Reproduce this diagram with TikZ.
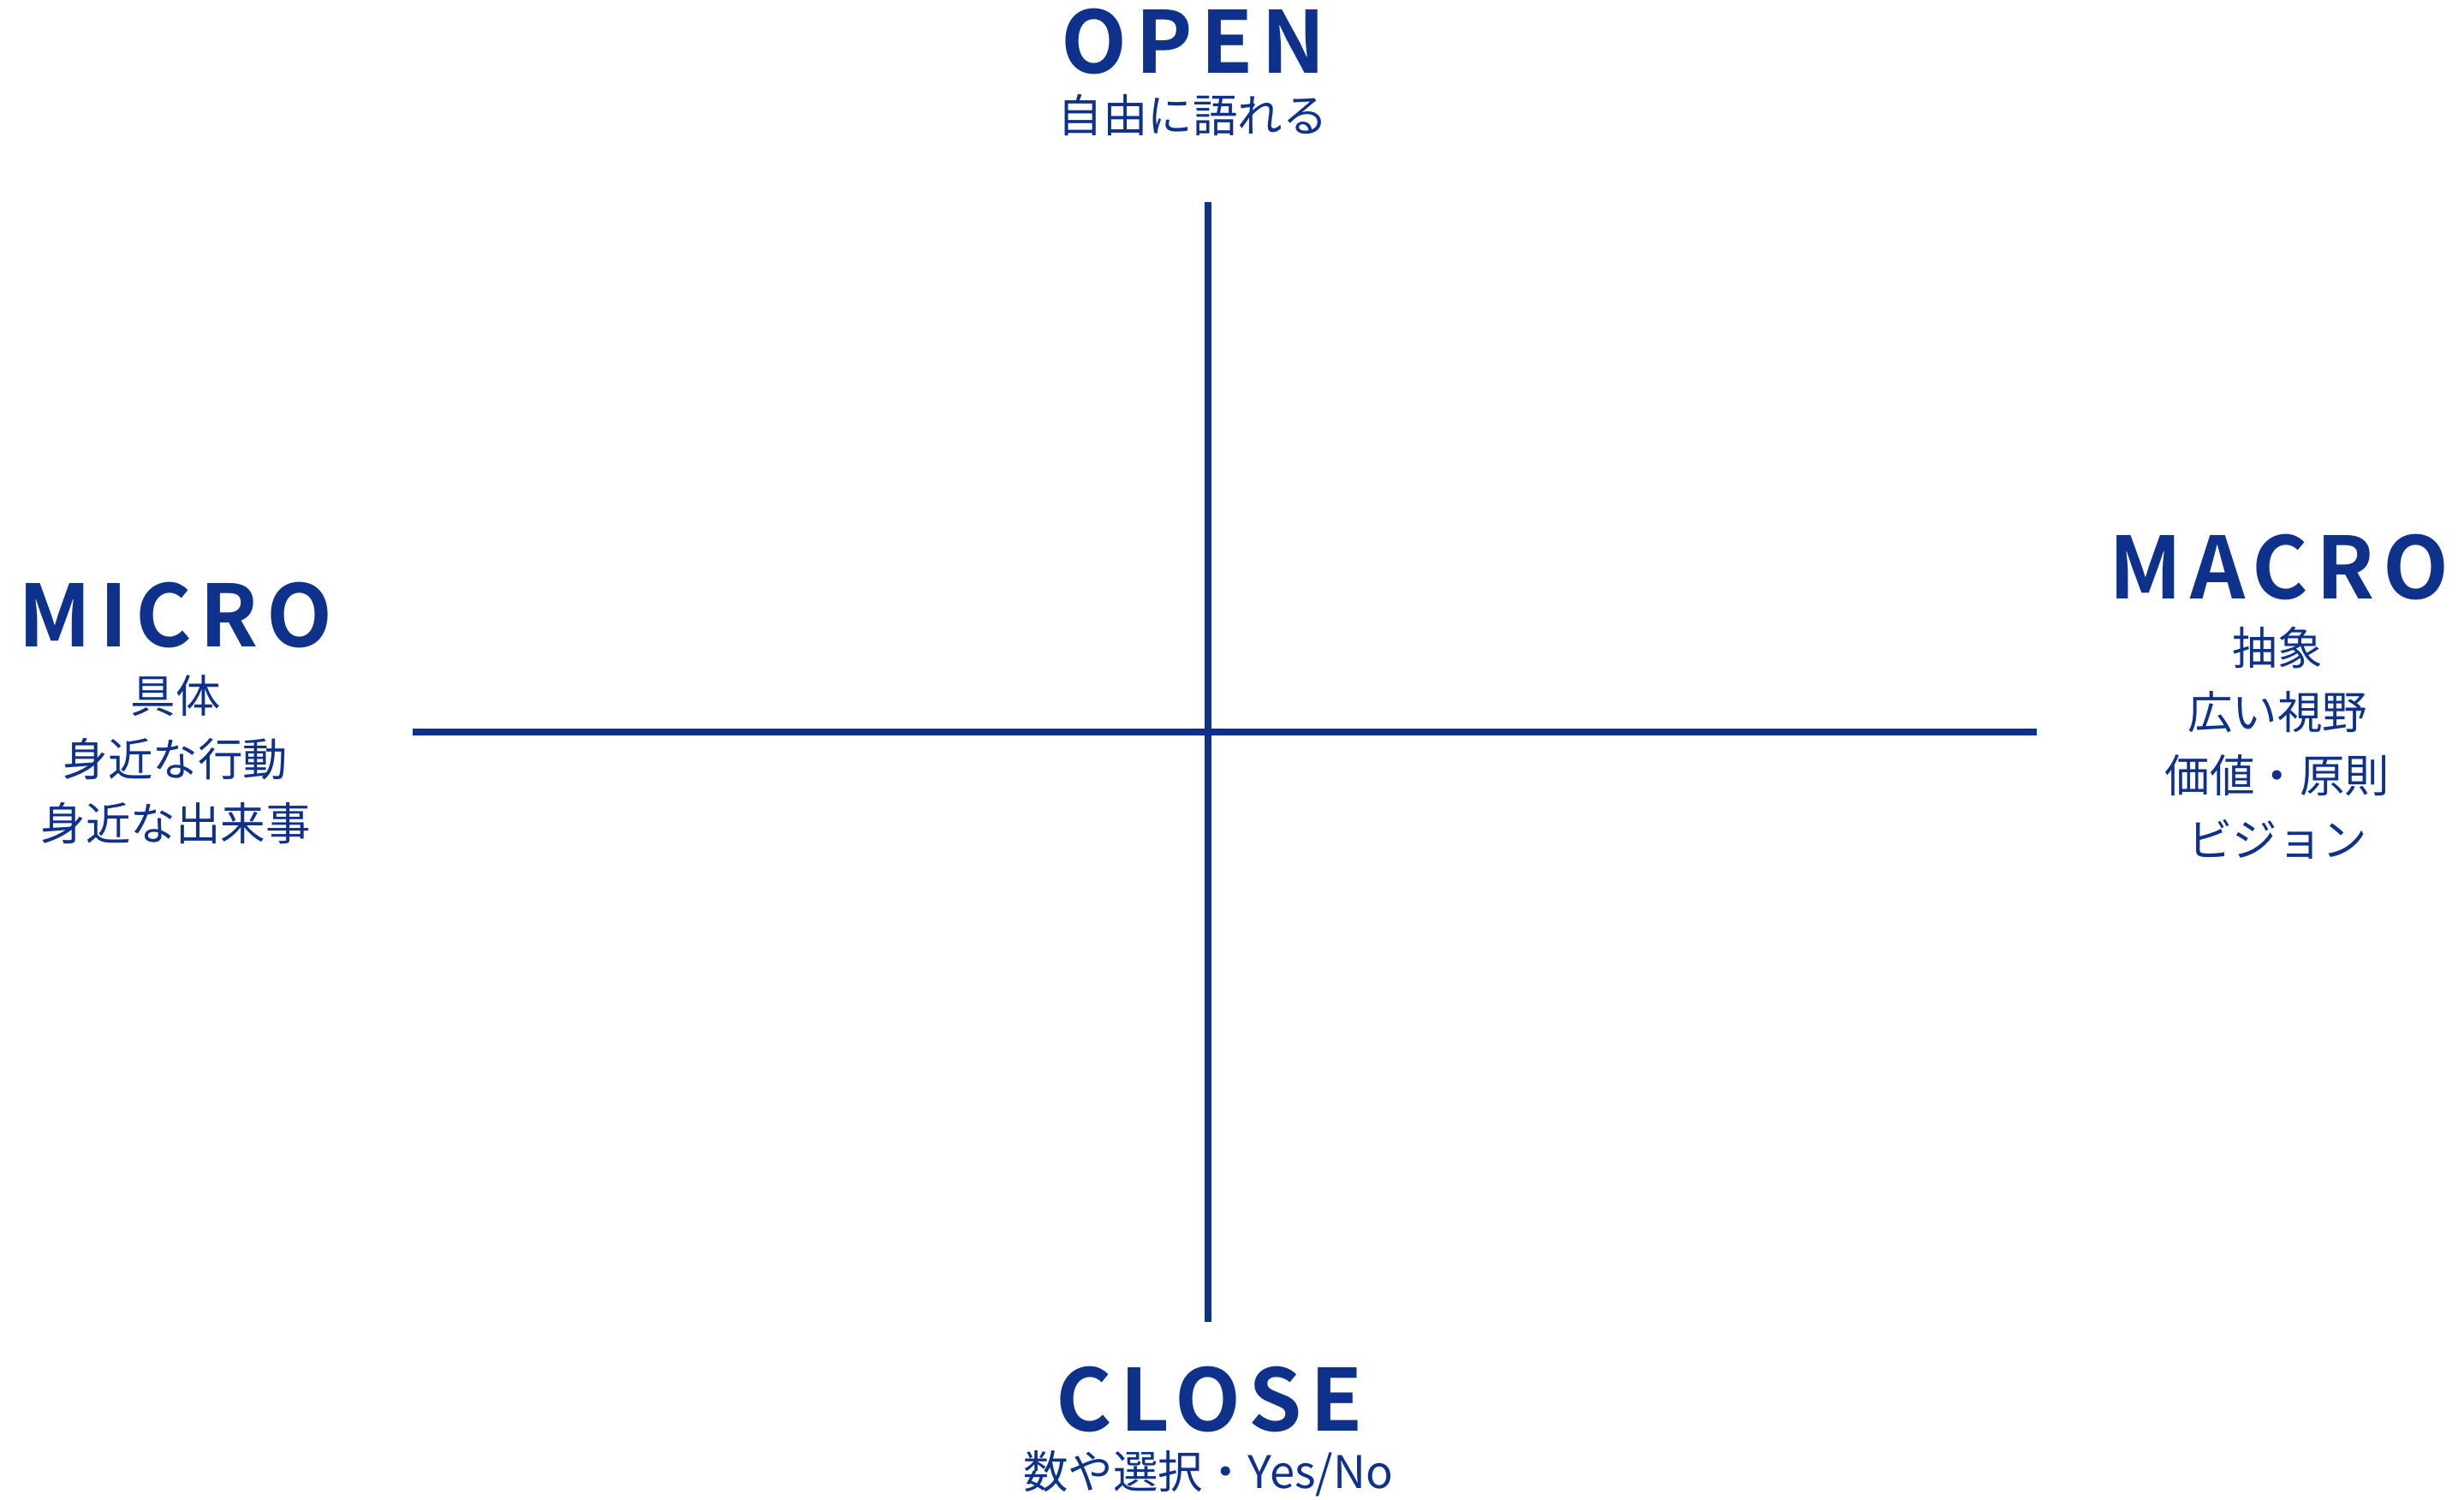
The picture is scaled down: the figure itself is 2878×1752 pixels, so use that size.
\documentclass[tikz,border=0pt]{standalone}
\usepackage{fontspec}
\setmainfont{Noto Sans CJK JP}
\newfontfamily\headfont[LetterSpace=9.5]{Noto Sans CJK JP Bold}
\definecolor{navy}{RGB}{14,50,140}
\tikzset{
  axis/.style={draw=navy, line width=8pt},
  headtxt/.style={text=navy, font=\headfont\fontsize{100}{100}\selectfont, inner sep=0pt, anchor=base},
  subtxt/.style={text=navy, font=\fontsize{52.5}{74.5}\selectfont, inner sep=0pt, align=center, anchor=north},
}
\begin{document}
\begin{tikzpicture}[x=1pt,y=-1pt]
\useasboundingbox (0,0) rectangle (2878,1752);
\coordinate (vt) at (1411.3,236);
\coordinate (vb) at (1411.3,1544);
\coordinate (hl) at (482.3,854.7);
\coordinate (hr) at (2378.7,854.7);
\draw[axis] (vt) -- (vb);
\draw[axis] (hl) -- (hr);
\node[headtxt] (open) at (1394,86) {OPEN};
\node[subtxt] (opensub) at (1393,110) {自由に語れる};
\node[headtxt] (close) at (1413,1671) {CLOSE};
\node[subtxt] (closesub) at (1411,1694) {数や選択・Yes/No};
\node[headtxt] (micro) at (205,755) {MICRO};
\node[subtxt] (microsub) at (205,788) {具体\\身近な行動\\身近な出来事};
\node[headtxt] (macro) at (2662,699) {MACRO};
\node[subtxt] (macrosub) at (2660,732) {抽象\\広い視野\\価値・原則\\ビジョン};
\end{tikzpicture}
\end{document}
